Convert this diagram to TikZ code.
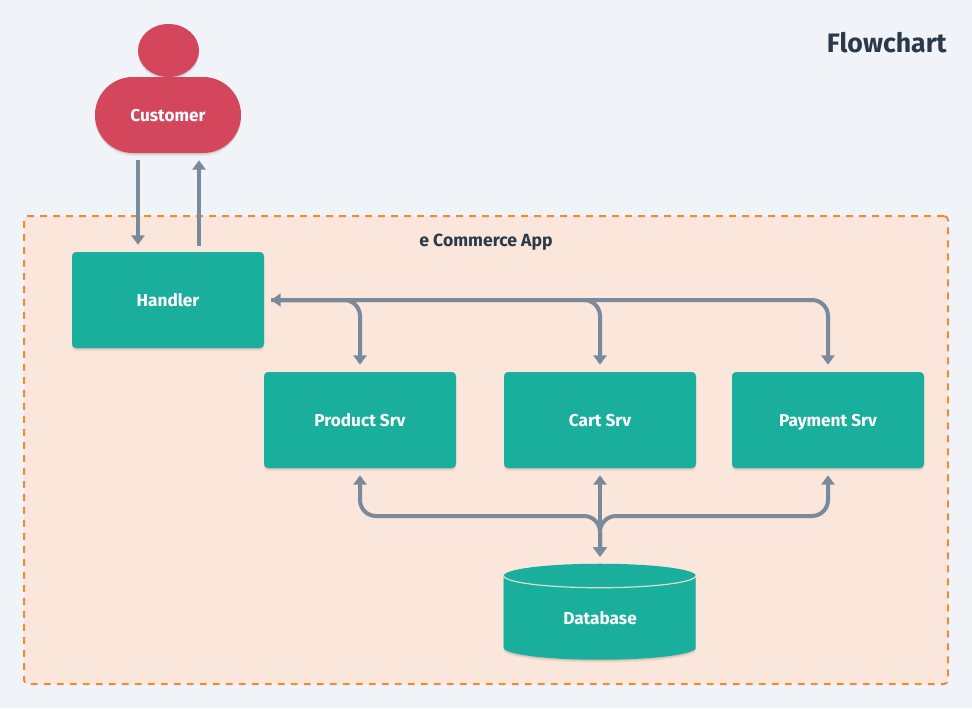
\documentclass[tikz,border=0pt]{standalone}
\usepackage{fontspec}
\setmainfont{Fira Sans}
\usetikzlibrary{arrows.meta,calc,shadows,shapes.geometric}
\definecolor{bg}{HTML}{F0F4F8}
\definecolor{appfill}{HTML}{FAE6DA}
\definecolor{appline}{HTML}{F08A3C}
\definecolor{teal}{HTML}{1AAF9D}
\definecolor{crim}{HTML}{D4465C}
\definecolor{conn}{HTML}{7B8A9A}
\definecolor{ink}{HTML}{2B3A4A}
\tikzset{
  softshadow/.style={drop shadow={shadow xshift=0pt,shadow yshift=-2.2pt,opacity=.04,fill=black},
                     drop shadow={shadow xshift=0pt,shadow yshift=-1.5pt,opacity=.05,fill=black},
                     drop shadow={shadow xshift=0pt,shadow yshift=-.8pt,opacity=.06,fill=black}},
  boxfont/.style={text=white,font=\bfseries\fontsize{12.9}{15}\selectfont,text height=11.5pt,text depth=2pt},
  srv/.style={rectangle,rounded corners=3pt,fill=teal,boxfont,
              minimum width=144pt,minimum height=72pt,inner sep=0pt,softshadow},
  link/.style={draw=conn,line width=3pt,rounded corners=12pt,-{Triangle[width=9.75pt,length=7pt]}},
  linkboth/.style={link,{Triangle[width=9.75pt,length=7pt]}-{Triangle[width=9.75pt,length=7pt]}},
}
\begin{document}
\begin{tikzpicture}[x=0.75pt,y=-0.75pt]
\useasboundingbox (0,0) rectangle (972,708);
\fill[bg] (0,0) rectangle (972,708);
\node[anchor=east,inner sep=0pt,text=ink,font=\bfseries\fontsize{20}{24}\selectfont] (title) at (947,43) {Flowchart};
\node[rectangle,rounded corners=3pt,draw=appline,fill=appfill,line width=1.5pt,dash pattern=on 5.2pt off 4.55pt,
      minimum width=693pt,minimum height=351pt,inner sep=0pt] (app) at (486,450) {};
\node[inner sep=0pt,text=ink,font=\bfseries\fontsize{13.2}{15}\selectfont,text height=11.5pt,text depth=2pt] (applabel) at (486,240) {e Commerce App};
% customer
\node[ellipse,fill=crim,minimum width=45.75pt,minimum height=39.75pt,inner sep=0pt,softshadow] (head) at (168.5,50.5) {};
\node[rectangle,rounded corners=28.4pt,fill=crim,boxfont,
      minimum width=109.5pt,minimum height=57pt,inner sep=0pt,softshadow] (customer) at (168,115) {Customer};
% boxes
\node[srv] (handler) at (168,300) {Handler};
\node[srv] (product) at (360,420) {Product Srv};
\node[srv] (cart) at (600,420) {Cart Srv};
\node[srv] (payment) at (828,420) {Payment Srv};
% database
\node[inner sep=0pt,minimum width=144pt,minimum height=72pt] (db) at (600,612) {};
\fill[teal,softshadow] (db.north west) ++(0,12) arc[start angle=180,end angle=360,x radius=96,y radius=12]
   -- ++(0,72) arc[start angle=0,end angle=180,x radius=96,y radius=12] -- cycle;
\draw[appfill!85!teal,line width=.9pt] (db.north west) ++(0,12) arc[start angle=180,end angle=0,x radius=96,y radius=12];
\node[boxfont,inner sep=0pt] (dblabel) at (600,618) {Database};
% customer links
\draw[link] ($(customer.south)+(-30,7)$) -- ($(handler.north)+(-30,-7)$);
\draw[link] ($(handler.north)+(31,-6)$) -- ($(customer.south)+(31,7)$);
% handler bus
\draw[link] ($(handler.east)+(7,0)$) -- (product.north |- handler.east) -- ($(product.north)+(0,-7)$);
\draw[link] ($(handler.east)+(7,0)$) -- (cart.north |- handler.east) -- ($(cart.north)+(0,-7)$);
\draw[linkboth] ($(handler.east)+(7,0)$) -- (payment.north |- handler.east) -- ($(payment.north)+(0,-7)$);
% database bus
\coordinate (busy) at (600,516);
\draw[linkboth] ($(product.south)+(0,7)$) -- (product.south |- busy) -- (cart.south |- busy) -- ($(db.north)+(0,-7)$);
\draw[linkboth] ($(payment.south)+(0,7)$) -- (payment.south |- busy) -- (cart.south |- busy) -- ($(db.north)+(0,-7)$);
\draw[linkboth] ($(cart.south)+(0,7)$) -- ($(db.north)+(0,-7)$);
\end{tikzpicture}
\end{document}
